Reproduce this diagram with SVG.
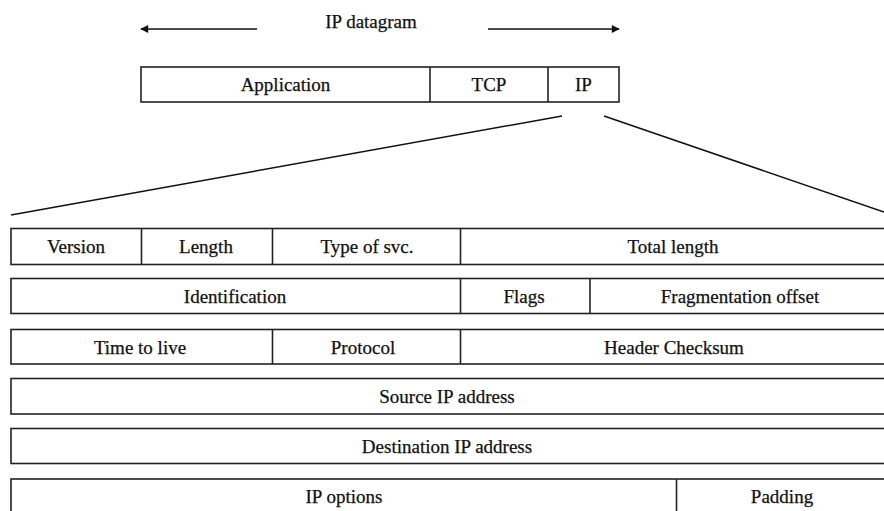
<svg xmlns="http://www.w3.org/2000/svg" width="884" height="511" viewBox="0 0 884 511">
  <defs>
    <marker id="arrow" viewBox="0 0 10 10" refX="9" refY="5" markerWidth="10" markerHeight="8" markerUnits="userSpaceOnUse" orient="auto-start-reverse">
      <path d="M0,0 L10,5 L0,10 Z" fill="#111"/>
    </marker>
  </defs>
  <style>
    .box { fill: #fff; stroke: #222; stroke-width: 1.6; }
    .div { stroke: #222; stroke-width: 1.6; }
    .ln { stroke: #111; stroke-width: 1.5; fill: none; }
    .t { font-family: "Liberation Serif", "Times New Roman", "DejaVu Serif", serif; font-size: 19px; fill: #111; stroke: #111; stroke-width: 0.25; text-anchor: middle; }
  </style>
  <rect width="884" height="511" fill="#fff"/>

  <!-- datagram span label with arrows -->
  <g id="datagram-label">
    <text class="t" x="371" y="28">IP datagram</text>
    <line class="ln" x1="257" y1="29" x2="141" y2="29" marker-end="url(#arrow)"/>
    <line class="ln" x1="488" y1="29" x2="619" y2="29" marker-end="url(#arrow)"/>
  </g>

  <!-- encapsulated datagram -->
  <g id="datagram">
    <rect class="box" x="141" y="67" width="478" height="35"/>
    <line class="div" x1="430" y1="67" x2="430" y2="102"/>
    <line class="div" x1="548" y1="67" x2="548" y2="102"/>
    <text class="t" x="285.5" y="91">Application</text>
    <text class="t" x="489" y="91">TCP</text>
    <text class="t" x="583.5" y="91">IP</text>
  </g>

  <!-- expansion lines from IP segment to header -->
  <g id="connectors">
    <line class="ln" x1="562" y1="116" x2="11" y2="215"/>
    <line class="ln" x1="604" y1="116" x2="884" y2="212"/>
  </g>

  <!-- IP header rows -->
  <g id="row-1">
    <rect class="box" x="11" y="228.5" width="880" height="36"/>
    <line class="div" x1="141.5" y1="228.5" x2="141.5" y2="264.5"/>
    <line class="div" x1="272.5" y1="228.5" x2="272.5" y2="264.5"/>
    <line class="div" x1="460.5" y1="228.5" x2="460.5" y2="264.5"/>
    <text class="t" x="76" y="253">Version</text>
    <text class="t" x="206" y="253">Length</text>
    <text class="t" x="367" y="253">Type of svc.</text>
    <text class="t" x="673" y="253">Total length</text>
  </g>

  <g id="row-2">
    <rect class="box" x="11" y="278.5" width="880" height="35"/>
    <line class="div" x1="460.5" y1="278.5" x2="460.5" y2="313.5"/>
    <line class="div" x1="590" y1="278.5" x2="590" y2="313.5"/>
    <text class="t" x="235" y="302.5">Identification</text>
    <text class="t" x="524" y="302.5">Flags</text>
    <text class="t" x="740" y="302.5">Fragmentation offset</text>
  </g>

  <g id="row-3">
    <rect class="box" x="11" y="329.5" width="880" height="34.5"/>
    <line class="div" x1="272.5" y1="329.5" x2="272.5" y2="364"/>
    <line class="div" x1="460.5" y1="329.5" x2="460.5" y2="364"/>
    <text class="t" x="140" y="353.5">Time to live</text>
    <text class="t" x="363" y="353.5">Protocol</text>
    <text class="t" x="674" y="353.5">Header Checksum</text>
  </g>

  <g id="row-4">
    <rect class="box" x="11" y="378.5" width="880" height="35.5"/>
    <text class="t" x="447" y="403">Source IP address</text>
  </g>

  <g id="row-5">
    <rect class="box" x="11" y="428.5" width="880" height="35"/>
    <text class="t" x="447" y="452.5">Destination IP address</text>
  </g>

  <g id="row-6">
    <rect class="box" x="11" y="479" width="880" height="40"/>
    <line class="div" x1="676.5" y1="479" x2="676.5" y2="519"/>
    <text class="t" x="344" y="503">IP options</text>
    <text class="t" x="782" y="503">Padding</text>
  </g>
</svg>
